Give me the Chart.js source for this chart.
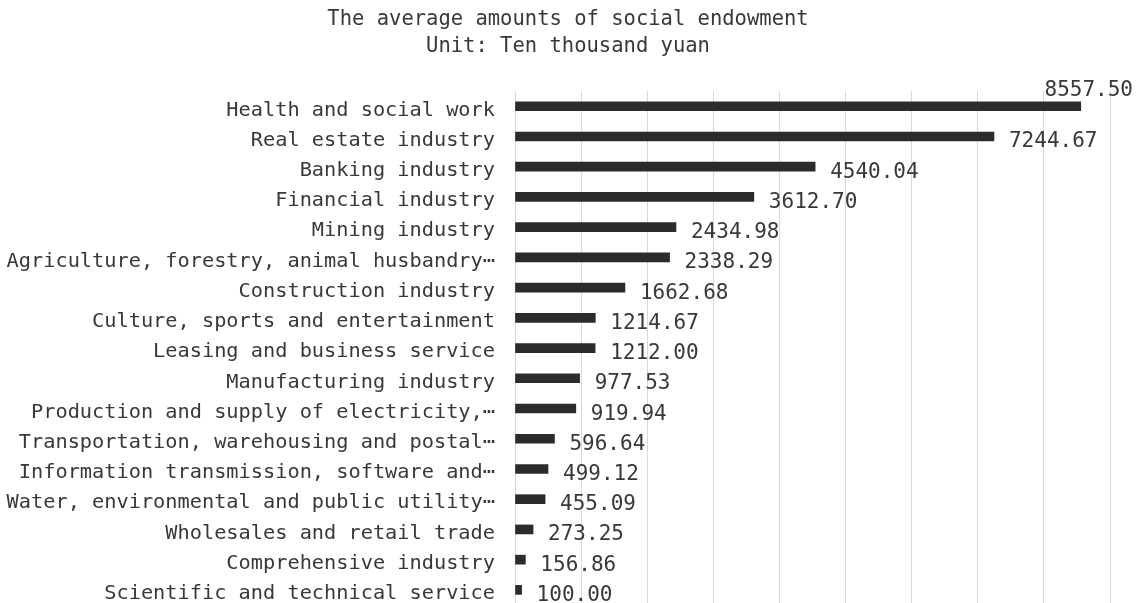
<!DOCTYPE html>
<html>
<head>
<meta charset="utf-8">
<script src="https://cdn.jsdelivr.net/npm/chart.js@4/dist/chart.umd.min.js"></script>
<style>
  html, body { margin: 0; padding: 0; background: #fff; overflow: hidden; }
  #wrap { width: 1136px; height: 606px; }
</style>
</head>
<body>
<div id="wrap"><canvas id="myChart"></canvas></div>
<script>
// industries, largest first
const industries = [
  "Health and social work",
  "Real estate industry",
  "Banking industry",
  "Financial industry",
  "Mining industry",
  "Agriculture, forestry, animal husbandry\u22ef",
  "Construction industry",
  "Culture, sports and entertainment",
  "Leasing and business service",
  "Manufacturing industry",
  "Production and supply of electricity,\u22ef",
  "Transportation, warehousing and postal\u22ef",
  "Information transmission, software and\u22ef",
  "Water, environmental and public utility\u22ef",
  "Wholesales and retail trade",
  "Comprehensive industry",
  "Scientific and technical service"
];
// average social endowment, ten thousand yuan
const amounts = [8557.50, 7244.67, 4540.04, 3612.70, 2434.98, 2338.29, 1662.68, 1214.67,
  1212.00, 977.53, 919.94, 596.64, 499.12, 455.09, 273.25, 156.86, 100.00];
const titleLines = ["The average amounts of social endowment", "Unit: Ten thousand yuan"];
const axisMax = 9000;
const axisStep = 1000;

const FONT = "'DejaVu Sans Mono', monospace";
const TEXT = "#383838";

// value labels at the end of each bar; if one runs off the right edge it goes above the bar
const barValues = {
  id: 'barValues',
  afterDatasetsDraw(chart) {
    const ctx = chart.ctx;
    const meta = chart.getDatasetMeta(0);
    ctx.save();
    ctx.font = "21px " + FONT;
    ctx.fillStyle = TEXT;
    ctx.textBaseline = "alphabetic";
    meta.data.forEach(function(bar, i) {
      const txt = amounts[i].toFixed(2);
      const w = ctx.measureText(txt).width;
      let x = bar.x + 15;
      if (x + w > chart.width - 2) {
        ctx.textAlign = "right";
        ctx.fillText(txt, chart.width - 3, bar.y - 10.5);
      } else {
        ctx.textAlign = "left";
        ctx.fillText(txt, x, bar.y + 11);
      }
    });
    ctx.restore();
  }
};

const config = {
  type: 'bar',
  data: {
    labels: industries,
    datasets: [{
      data: amounts,
      backgroundColor: "#2b2b2b",
      barThickness: 9
    }]
  },
  options: {
    indexAxis: 'y',
    responsive: true,
    maintainAspectRatio: false,
    animation: false,
    layout: { padding: { left: 0, right: 0, top: 0, bottom: 1 } },
    plugins: {
      legend: { display: false },
      tooltip: { enabled: false },
      title: {
        display: true,
        text: titleLines,
        color: TEXT,
        font: { family: FONT, size: 20.5, weight: 'normal', lineHeight: 1.32 },
        padding: { top: 6, bottom: 31 }
      }
    },
    scales: {
      x: {
        min: 0,
        max: axisMax,
        ticks: { display: false, stepSize: axisStep },
        grid: { color: "#d9d9d9", drawTicks: false },
        border: { display: false },
        afterFit(scale) { scale.height = 0; }
      },
      y: {
        grid: { display: false, drawTicks: false },
        border: { display: false },
        ticks: {
          color: TEXT,
          font: { family: FONT, size: 20.3 },
          padding: 20,
          labelOffset: 4,
          autoSkip: false
        },
        afterFit(scale) {
          scale.width = 515;
          // the bands already leave room for the first and last label
          scale.paddingTop = 0;
          scale.paddingBottom = 0;
        }
      },
      // empty strip on the right so the bars stop short of the edge
      gutter: {
        type: 'linear',
        position: 'right',
        display: true,
        grid: { display: false, drawTicks: false },
        border: { display: false },
        ticks: { display: false },
        afterFit(scale) { scale.width = 26; }
      }
    }
  },
  plugins: [barValues]
};

const myChart = new Chart(document.getElementById('myChart'), config);
</script>
</body>
</html>
